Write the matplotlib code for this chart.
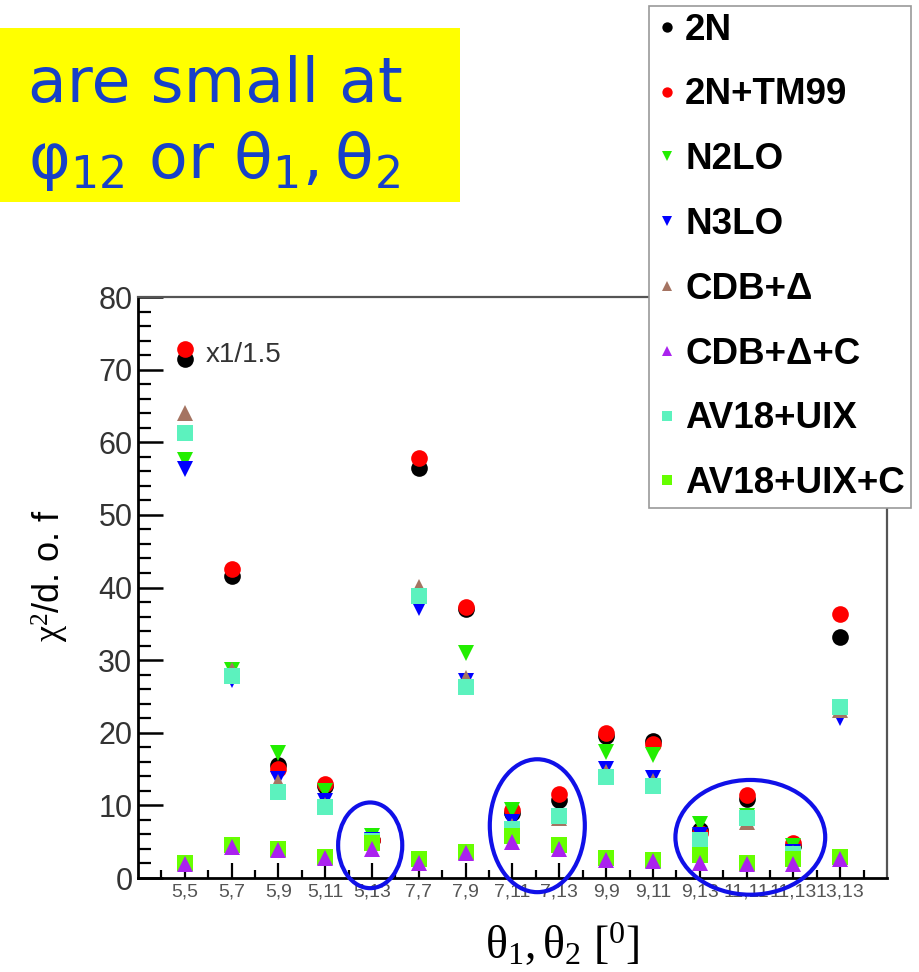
import numpy as np
import matplotlib
matplotlib.use("Agg")
import matplotlib.pyplot as plt
from matplotlib.patches import Ellipse, Rectangle
from matplotlib.ticker import MultipleLocator, FixedLocator

plt.rcParams['font.family'] = ['Liberation Sans', 'DejaVu Sans']
plt.rcParams['mathtext.fontset'] = 'custom'
plt.rcParams['mathtext.rm'] = 'Liberation Serif'
plt.rcParams['mathtext.it'] = 'Liberation Serif:italic'
plt.rcParams['mathtext.bf'] = 'Liberation Serif:bold'

# detector angle pairs (theta1, theta2) in degrees
categories = ['5,5', '5,7', '5,9', '5,11', '5,13', '7,7', '7,9', '7,11', '7,13',
              '9,9', '9,11', '9,13', '11,11', '11,13', '13,13']

# chi^2 per degree of freedom for each potential model
chi_2n      = [71.4, 41.6, 15.6, 12.7, 5.2, 56.4, 37.0, 9.0, 10.8, 19.6, 18.9, 6.6, 10.9, 4.4, 33.2]
chi_2n_tm99 = [72.9, 42.5, 15.0, 13.0, 5.3, 57.9, 37.3, 9.3, 11.5, 20.0, 18.5, 6.2, 11.4, 4.8, 36.3]
chi_n2lo    = [57.5, 28.7, 17.2, 12.0, 5.8, 38.0, 31.0, 9.3, 8.6, 17.4, 17.0, 7.4, 8.5, 4.4, 23.0]
chi_n3lo    = [56.3, 27.3, 13.6, 10.6, 5.2, 37.2, 27.1, 7.7, 8.4, 15.0, 13.8, 5.9, 8.1, 3.6, 22.0]
chi_cdb     = [64.0, 28.7, 13.2, 10.0, 5.0, 40.1, 27.6, 7.2, 8.3, 14.6, 13.3, 4.8, 7.7, 3.4, 23.1]
chi_cdb_c   = [1.9, 4.3, 3.9, 2.7, 4.0, 2.1, 3.4, 5.0, 4.0, 2.5, 2.3, 2.1, 1.9, 1.9, 2.6]
chi_av18    = [61.3, 27.8, 11.9, 9.8, 5.1, 38.8, 26.3, 6.7, 8.6, 13.9, 12.6, 5.3, 8.3, 3.3, 23.6]
chi_av18_c  = [2.1, 4.6, 4.0, 2.9, 4.8, 2.6, 3.6, 5.8, 4.5, 2.7, 2.5, 3.1, 2.0, 2.6, 2.9]

legend_labels = ['2N', '2N+TM99', 'N2LO', 'N3LO', 'CDB+\u0394', 'CDB+\u0394+C',
                 'AV18+UIX', 'AV18+UIX+C']

W, H = 920, 972
fig = plt.figure(figsize=(W / 100, H / 100), dpi=100)
fig.patch.set_facecolor('white')

ax = fig.add_axes([138 / W, 1 - 878 / H, (887 - 138) / W, (878 - 297) / H])

x = np.arange(1, len(categories) + 1)

# (values, colour, marker, size) in drawing order
series = {
    '2N':          (chi_2n,      'black',   'o', 12),
    '2N+TM99':     (chi_2n_tm99, '#ff0000', 'o', 12),
    'N2LO':        (chi_n2lo,    '#22ee00', 'v', 11.5),
    'N3LO':        (chi_n3lo,    '#0000ff', 'v', 11.5),
    'CDB+\u0394':  (chi_cdb,     '#a57462', '^', 11.5),
    'AV18+UIX':    (chi_av18,    '#5cf2be', 's', 11),
    'AV18+UIX+C':  (chi_av18_c,  '#66ff00', 's', 11),
    'CDB+\u0394+C':(chi_cdb_c,   '#aa22ee', '^', 11.5),
}

handles = {}
for name, (vals, col, mk, ms) in series.items():
    h, = ax.plot(x, vals, linestyle='none', marker=mk, color=col,
                 markersize=ms, markeredgewidth=0, label=name)
    handles[name] = h

ax.set_xlim(0, 16)
ax.set_ylim(0, 80)

ax.xaxis.set_major_locator(FixedLocator(x))
ax.xaxis.set_minor_locator(FixedLocator(np.arange(0.5, 16, 1.0)))
ax.set_xticklabels(categories)
ax.yaxis.set_major_locator(MultipleLocator(10))
ax.yaxis.set_minor_locator(MultipleLocator(2))

ax.tick_params(axis='y', which='major', direction='in', length=18, width=1.8,
               labelsize=22, labelcolor='#333333', pad=4, right=False)
ax.tick_params(axis='y', which='minor', direction='in', length=9, width=1.6, right=False)
ax.tick_params(axis='x', which='major', direction='in', length=11, width=1.6,
               labelsize=14, labelcolor='#555555', pad=4, top=False)
ax.tick_params(axis='x', which='minor', direction='in', length=6, width=1.6, top=False)

for s in ('left', 'bottom'):
    ax.spines[s].set_linewidth(2)
    ax.spines[s].set_color('black')
for s in ('top', 'right'):
    ax.spines[s].set_linewidth(1.6)
    ax.spines[s].set_color('#555555')

ax.set_ylabel(r'$\mathrm{\chi}^{2}$/d. o. f', fontsize=26)
ax.yaxis.set_label_coords(-0.09, 0.52)
ax.set_xlabel(r'$\mathrm{\theta_{1}, \theta_{2}\ [^{0}]}$', fontsize=33)
ax.xaxis.set_label_coords(0.567, -0.075)
ax.xaxis.label.set_va('top')

# scale note next to the leftmost 2N points
ax.text(1.45, 72.0, 'x1/1.5', fontsize=20, color='#333333', va='center', ha='left')

# highlight the groups with small chi^2 differences
for cx, cy, w, h in [(4.96, 4.5, 1.37, 11.8), (8.53, 7.2, 2.03, 18.3), (13.08, 5.6, 3.2, 15.8)]:
    ax.add_patch(Ellipse((cx, cy), w, h, fill=False, edgecolor='#1010e8',
                         linewidth=3, clip_on=False, zorder=6))

# legend box
order = legend_labels
leg = fig.legend([handles[k] for k in order], order, loc='upper left',
                 bbox_to_anchor=(649 / W, 1 - 6 / H), bbox_transform=fig.transFigure,
                 prop={'family': 'Liberation Sans', 'weight': 'bold', 'size': 26.5},
                 markerscale=0.62, handlelength=0.6, handletextpad=0.2,
                 labelspacing=0.81, borderpad=0.18, borderaxespad=0,
                 frameon=True, fancybox=False, framealpha=1, edgecolor='#999999')
leg.get_frame().set_linewidth(1.2)

# yellow headline box
fig.patches.append(Rectangle((0, 1 - 202 / H), 460 / W, (202 - 28) / H,
                             transform=fig.transFigure, facecolor='#ffff00',
                             edgecolor='none', zorder=0))
blue_txt = '#1740c8'
fig.text(28 / W, 1 - 102 / H, 'are small at', fontsize=45.5, color=blue_txt,
         family='DejaVu Sans', va='baseline', ha='left')
plt.rcParams['mathtext.fontset'] = 'dejavusans'
fig.text(28 / W, 1 - 178 / H, r'$\mathrm{\varphi_{12}}$ or $\mathrm{\theta_{1},\theta_{2}}$',
         fontsize=45.5, color=blue_txt, family='DejaVu Sans', va='baseline', ha='left')

fig.savefig('out.png', dpi=100)
